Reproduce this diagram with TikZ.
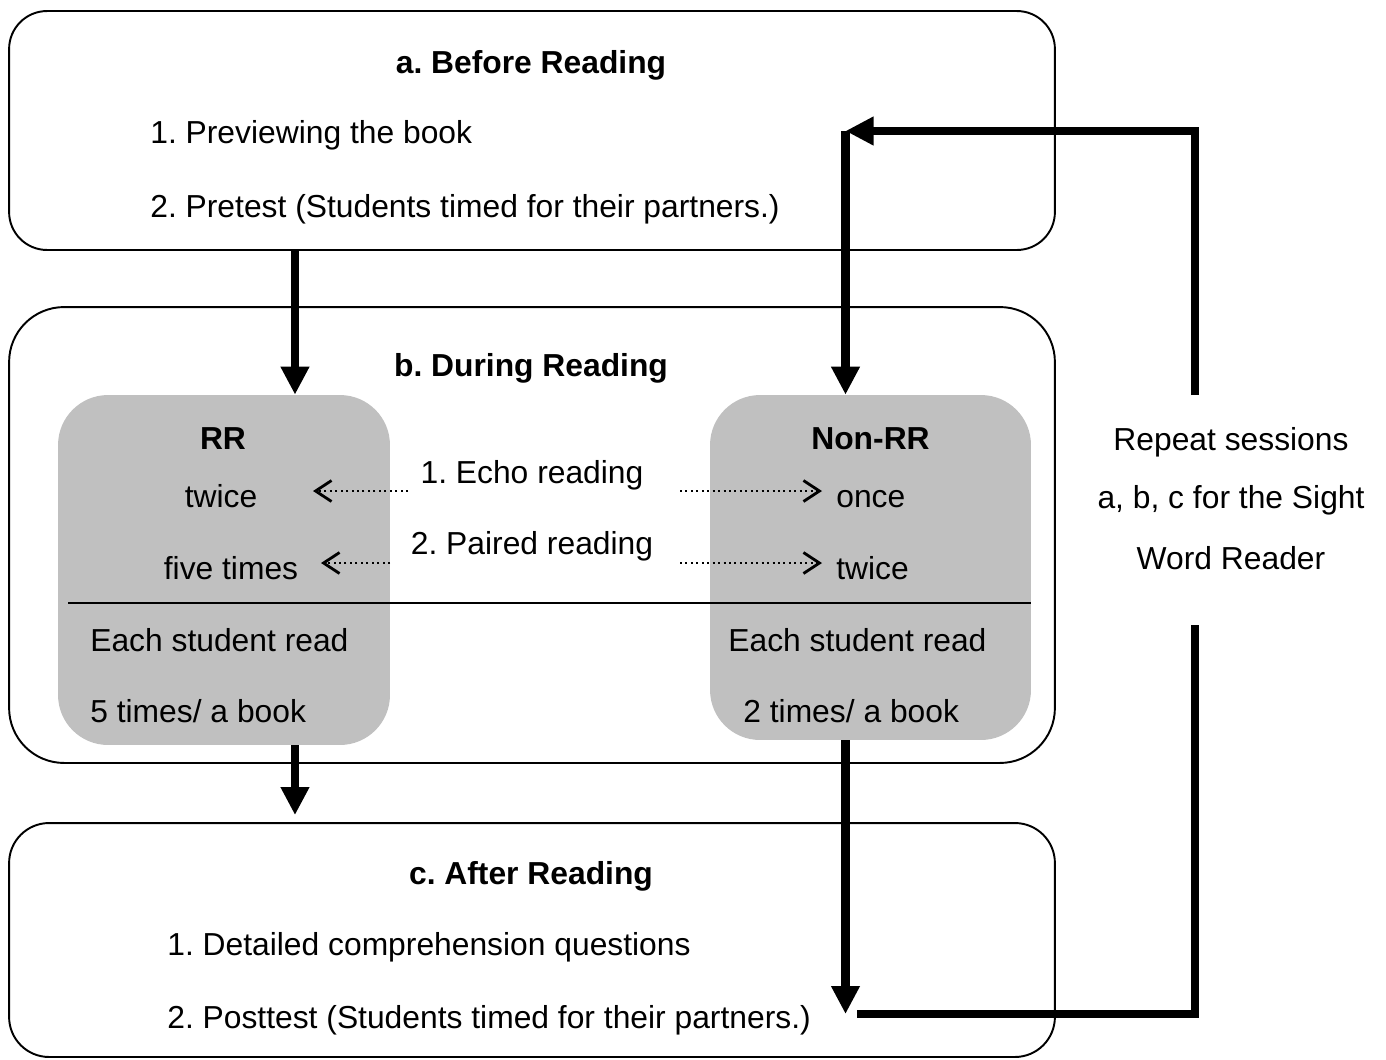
\documentclass[tikz,border=0pt]{standalone}
\usepackage{fontspec}
\setmainfont{Liberation Sans}
\usetikzlibrary{arrows.meta,positioning}
\definecolor{panelgray}{RGB}{192,192,192}
\frenchspacing

\begin{document}
\begin{tikzpicture}[x=0.02cm, y=-0.02cm, font=\fontsize{18.1}{22}\selectfont,
        stage/.style = {draw, line width=1.1pt, minimum width=20.92cm},
        group/.style = {fill=panelgray, rounded corners=1cm},
        txt/.style = {inner sep=0pt, anchor=base west},
        mid/.style = {inner sep=0pt, anchor=base},
        head/.style = {mid, font=\fontsize{18.1}{22}\selectfont\bfseries},
        heavy/.style = {line width=4.6pt, -{Triangle[width=0.54cm,length=0.56cm]}},
        loopline/.style = {line width=4.6pt},
        echo/.style = {dotted, line width=1.1pt, -{Straight Barb[length=0.32cm,width=0.42cm,line width=1.6pt]}}]
        \useasboundingbox (0,0) rectangle (1386,1059);

        % the three stages
        \node[stage, minimum height=4.78cm, rounded corners=0.76cm] (before) at (532,130.5) {};
        \node[stage, minimum height=9.12cm, rounded corners=1.1cm] (during) at (532,535) {};
        \node[stage, minimum height=4.68cm, rounded corners=0.8cm] (after) at (532,940) {};
        \node[group, minimum width=6.64cm, minimum height=7cm] (rr) at (224,570) {};
        \node[group, minimum width=6.42cm, minimum height=6.9cm] (nonrr) at (870.5,567.5) {};
        \draw[line width=1pt] (68,603) -- (1031,603);

        \node[head] (titleA) at (531,73) {a. Before Reading};
        \node[txt] (preview) at (150,143) {1. Previewing the book};
        \node[txt] (pretest) at (150,217) {2. Pretest (Students timed for their partners.)};

        \node[head] (titleB) at (531,376) {b. During Reading};
        \node[head] (rrhead) at (223,449) {RR};
        \node[mid] (rrtwice) at (221,507) {twice};
        \node[mid] (rrfive) at (231,579) {five times};
        \node[mid] (echo) at (532,483) {1. Echo reading};
        \node[mid] (paired) at (532,554) {2. Paired reading};
        \node[head] (nrhead) at (870.5,449) {Non-RR};
        \node[txt] (nronce) at (836,507) {once};
        \node[txt] (nrtwice) at (836,579) {twice};
        \node[txt] (rreach) at (90,651) {Each student read};
        \node[txt] (rrbook) at (90,722) {5 times/ a book};
        \node[txt] (nreach) at (728,651) {Each student read};
        \node[txt] (nrbook) at (743,722) {2 times/ a book};

        \node[head] (titleC) at (531,884) {c. After Reading};
        \node[txt] (detail) at (167,955) {1. Detailed comprehension questions};
        \node[txt] (post) at (167,1028) {2. Posttest (Students timed for their partners.)};

        \node[mid] (rep1) at (1231,450) {Repeat sessions};
        \node[mid] (rep2) at (1231,508) {a, b, c for the Sight};
        \node[mid] (rep3) at (1231,569) {Word Reader};

        % ends of the connectors
        \coordinate (rrin) at ([xshift=1.42cm]rr.north);
        \coordinate (rrout) at ([xshift=1.42cm]rr.south);
        \coordinate (nrin) at ([xshift=-0.5cm]nonrr.north);
        \coordinate (nrout) at ([xshift=-0.5cm]nonrr.south);
        \path (after.north -| rrout) ++(0,-7) coordinate (rrland);
        \coordinate (backin) at (857,1014);
        \coordinate (loopB) at (1195,1014);
        \coordinate (loopT) at (1195,131);
        \coordinate (gapT) at (1195,395);
        \coordinate (gapB) at (1195,625);
        \coordinate (echoL) at (408,491);
        \coordinate (echoLt) at (313,491);
        \coordinate (echoR) at (680,491);
        \coordinate (echoRt) at (822,491);
        \coordinate (pairL) at (390,563);
        \coordinate (pairLt) at (321,563);
        \coordinate (pairR) at (680,563);
        \coordinate (pairRt) at (822,563);

        \draw[heavy] (before.south -| rrin) -- (rrin);
        \draw[heavy] (rrout) -- (rrland);
        \draw[heavy] (nrout) -- (nrout |- backin);
        \draw[loopline] (backin) -- (loopB) -- (gapB);
        \draw[heavy] (gapT) -- (loopT) -- (nrin |- loopT);
        \draw[heavy] (nrin |- loopT) -- (nrin);

        \draw[echo] (echoL) -- (echoLt);
        \draw[echo] (echoR) -- (echoRt);
        \draw[echo] (pairL) -- (pairLt);
        \draw[echo] (pairR) -- (pairRt);
    \end{tikzpicture}
\end{document}
